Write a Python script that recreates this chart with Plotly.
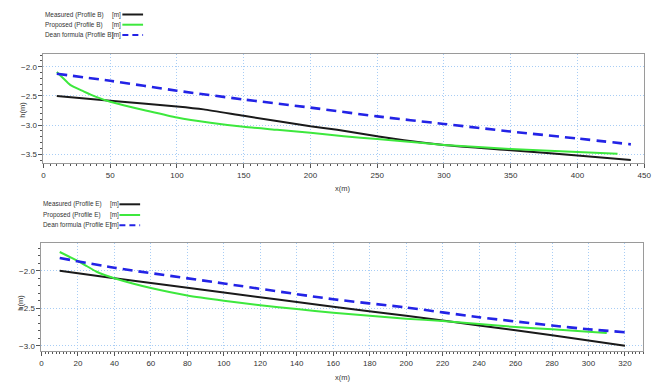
import plotly.graph_objects as go

# ---- Profile B (top chart) ----
xB_meas = [10, 50, 100, 120, 150, 200, 220, 250, 270, 300, 350, 400, 440]
yB_meas = [-2.50, -2.58, -2.68, -2.73, -2.84, -3.02, -3.08, -3.19, -3.26, -3.34, -3.43, -3.52, -3.60]
xB_prop = [10, 15, 20, 30, 40, 50, 60, 75, 100, 125, 150, 175, 200, 225, 250, 280, 300, 350, 400, 430]
yB_prop = [-2.09, -2.20, -2.31, -2.42, -2.52, -2.60, -2.66, -2.74, -2.87, -2.96, -3.03, -3.08, -3.13, -3.19, -3.24, -3.30, -3.34, -3.41, -3.46, -3.49]
xB_dean = [10, 50, 100, 150, 200, 250, 300, 350, 400, 440]
yB_dean = [-2.12, -2.24, -2.41, -2.56, -2.70, -2.85, -2.98, -3.11, -3.23, -3.33]

# ---- Profile E (bottom chart) ----
xE_meas = [10, 40, 100, 160, 200, 240, 280, 320]
yE_meas = [-2.00, -2.10, -2.29, -2.48, -2.60, -2.73, -2.86, -3.00]
xE_prop = [10, 15, 20, 25, 30, 35, 40, 50, 60, 80, 100, 120, 140, 160, 180, 200, 220, 240, 260, 280, 310]
yE_prop = [-1.75, -1.81, -1.87, -1.94, -2.01, -2.06, -2.10, -2.17, -2.23, -2.33, -2.40, -2.46, -2.51, -2.56, -2.60, -2.64, -2.67, -2.71, -2.75, -2.78, -2.83]
xE_dean = [10, 40, 100, 160, 200, 240, 280, 300, 320]
yE_dean = [-1.83, -1.96, -2.17, -2.38, -2.49, -2.62, -2.73, -2.78, -2.82]

legB = ["Measured (Profile B)", "Proposed (Profile B)", "Dean formula (Profile B)"]
legE = ["Measured (Profile E)", "Proposed (Profile E)", "Dean formula (Profile E)"]
unit = "[m]"

xB_ticks = [0, 50, 100, 150, 200, 250, 300, 350, 400, 450]
yB_ticks = [-2.0, -2.5, -3.0, -3.5]
xE_ticks = list(range(0, 321, 20))
yE_ticks = [-2.0, -2.5, -3.0]

BLACK = "#1a1a1a"
GREEN = "#3de83d"
BLUE = "#2323e6"
FONT = "Liberation Sans, Arial, sans-serif"
W, H = 667, 383

fig = go.Figure()

def add_series(x, y, color, xa, ya, dash=None, width=2, spline=True):
    line = dict(color=color, width=width, dash=dash)
    if spline:
        line.update(shape="spline", smoothing=0.6)
    fig.add_trace(go.Scatter(x=x, y=y, mode="lines", xaxis=xa, yaxis=ya, line=line,
                             showlegend=False, hoverinfo="skip"))

add_series(xB_meas, yB_meas, BLACK, "x", "y")
add_series(xB_prop, yB_prop, GREEN, "x", "y")
add_series(xB_dean, yB_dean, BLUE, "x", "y", dash="10px,6px", width=2.6)
add_series(xE_meas, yE_meas, BLACK, "x2", "y2")
add_series(xE_prop, yE_prop, GREEN, "x2", "y2")
add_series(xE_dean, yE_dean, BLUE, "x2", "y2", dash="10px,6px", width=2.6)

def px(xp):
    return xp / W

def py(yp):
    return 1 - yp / H

grid = dict(showgrid=True, gridcolor="#a8cdf5", griddash="1px,2px", gridwidth=1,
            zeroline=False, showline=True, linecolor="#9a9a9a", linewidth=1, mirror=True,
            ticks="outside", ticklen=4, tickcolor="#555555",
            tickfont=dict(family=FONT, size=8, color="#333333"))

fig.update_layout(
    width=W, height=H, autosize=False,
    margin=dict(l=0, r=0, t=0, b=0),
    paper_bgcolor="white", plot_bgcolor="white",
    xaxis=dict(domain=[px(42), px(651)], range=[0, 450], tickvals=xB_ticks, anchor="y",
               minor=dict(dtick=5, ticklen=2, tickcolor="#555555", ticks="outside"), **grid),
    yaxis=dict(domain=[py(163), py(54)], range=[-3.65, -1.78], tickvals=yB_ticks,
               tickformat=".1f", anchor="x",
               minor=dict(dtick=0.1, ticklen=2, tickcolor="#555555", ticks="outside"), **grid),
    xaxis2=dict(domain=[px(40), px(650)], range=[0, 330], tickvals=xE_ticks, anchor="y2",
                minor=dict(dtick=2, ticklen=2, tickcolor="#555555", ticks="outside"), **grid),
    yaxis2=dict(domain=[py(351), py(243)], range=[-3.07, -1.63], tickvals=yE_ticks,
                tickformat=".1f", anchor="x2",
                minor=dict(dtick=0.1, ticklen=2, tickcolor="#555555", ticks="outside"), **grid),
)

ann = []
shapes = []
tf = dict(family=FONT, size=6.4, color="#333333")
tf2 = dict(family=FONT, size=7.5, color="#333333")

def legend(names, x_text, x_unit, x_line0, x_line1, ys):
    colors = [BLACK, GREEN, BLUE]
    dashes = ["solid", "solid", "6px,4px"]
    for i, name in enumerate(names):
        ann.append(dict(x=px(x_text), y=py(ys[i]), xref="paper", yref="paper", text=name,
                        showarrow=False, xanchor="left", yanchor="middle", font=tf))
        ann.append(dict(x=px(x_unit), y=py(ys[i]), xref="paper", yref="paper", text=unit,
                        showarrow=False, xanchor="left", yanchor="middle", font=tf))
        shapes.append(dict(type="line", xref="paper", yref="paper",
                           x0=px(x_line0), x1=px(x_line1), y0=py(ys[i]), y1=py(ys[i]),
                           line=dict(color=colors[i], width=2, dash=dashes[i])))

legend(legB, 42, 109, 122, 143, [14.5, 24.7, 35])
legend(legE, 40, 107, 119, 140, [204.3, 215, 225.3])

for (xx, yy) in [(20, 110), (18, 303)]:
    ann.append(dict(x=px(xx), y=py(yy), xref="paper", yref="paper", text="h(m)", textangle=-90,
                    showarrow=False, xanchor="center", yanchor="middle", font=tf2))
for (xx, yy) in [(345, 188), (345, 377)]:
    ann.append(dict(x=px(xx), y=py(yy), xref="paper", yref="paper", text="x(m)",
                    showarrow=False, xanchor="center", yanchor="middle", font=tf2))

fig.update_layout(annotations=ann, shapes=shapes)
fig.write_html("out.html", config={"displayModeBar": False},
               post_script="document.body.style.margin='0';document.body.style.overflow='hidden';")
